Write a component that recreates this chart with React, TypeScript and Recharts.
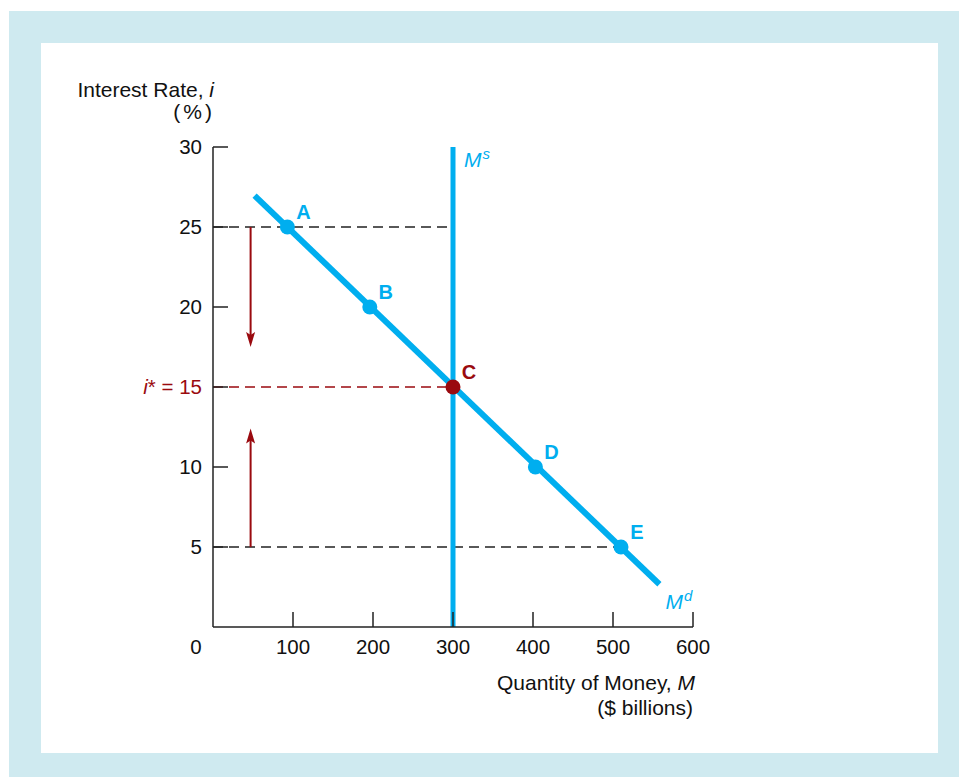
import React from 'react';
import {
  ComposedChart,
  Line,
  Scatter,
  XAxis,
  YAxis,
  ReferenceLine,
  ReferenceDot,
} from 'recharts';

// axis ticks
const xTicks = [0, 100, 200, 300, 400, 500, 600];
const yTicks = [5, 10, 15, 20, 25, 30];

// money demand curve (Md) end points
const demandM = [52, 558];
const demandI = [26.96, 2.67];

// labelled points on the demand curve
const pointLabels = ['A', 'B', 'C', 'D', 'E'];
const pointM = [93, 196, 300, 403, 510];
const pointI = [25, 20, 15, 10, 5];

// money supply (Ms) and equilibrium
const supplyM = 300;
const equilibriumI = 15;

// adjustment arrows: x position, start rate, tip rate
const arrowM = 47;
const arrowFrom = [25, 5];
const arrowTo = [17.5, 12.4];

const CYAN = '#00aeef';
const RED = '#9a0a0f';
const INK = '#222';
const FONT = "'Liberation Sans', Arial, Helvetica, sans-serif";

const demandData = demandM.map((m, k) => ({ m, i: demandI[k] }));
const pointData = pointLabels.map((label, k) => ({ label, m: pointM[k], i: pointI[k] }));

const XTick = (props: any) => {
  const { x, y, payload } = props;
  const v = payload.value;
  const axisY = y - 20;
  return (
    <g>
      {v !== 0 && <line x1={x} y1={axisY} x2={x} y2={axisY - 15} stroke={INK} strokeWidth={1.5} />}
      <text x={v === 0 ? x - 17 : x} y={y} dy="0.36em" textAnchor="middle" fontSize={20.5} fill="#111" fontFamily={FONT}>
        {v}
      </text>
    </g>
  );
};

const YTick = (props: any) => {
  const { x, y, payload } = props;
  const v = payload.value;
  const axisX = x + 11;
  return (
    <g>
      <line x1={axisX} y1={y} x2={axisX + 15} y2={y} stroke={INK} strokeWidth={1.5} />
      {v === equilibriumI ? (
        <text x={x} y={y} dy="0.36em" textAnchor="end" fontSize={20.5} fill={RED} fontFamily={FONT}>
          <tspan fontStyle="italic">i</tspan>* = {v}
        </text>
      ) : (
        <text x={x} y={y} dy="0.36em" textAnchor="end" fontSize={20.5} fill="#111" fontFamily={FONT}>
          {v}
        </text>
      )}
    </g>
  );
};

const renderPoint = (props: any) => {
  const { cx, cy, payload } = props;
  const color = payload.i === equilibriumI ? RED : CYAN;
  return (
    <g>
      <circle cx={cx} cy={cy} r={7.5} fill={color} />
      <text x={cx + 16} y={cy - 15} dy="0.36em" textAnchor="middle" fontSize={20} fontWeight="bold" fill={color} fontFamily={FONT}>
        {payload.label}
      </text>
    </g>
  );
};

const arrowShape = (props: any) => {
  const { x1, y1, x2, y2 } = props;
  const dir = y2 > y1 ? 1 : -1;
  return (
    <g>
      <line x1={x1} y1={y1} x2={x2} y2={y2 - dir * 10} stroke={RED} strokeWidth={2} />
      <path
        d={`M${x2},${y2} L${x2 - 4.5},${y2 - dir * 15} L${x2},${y2 - dir * 12} L${x2 + 4.5},${y2 - dir * 15} Z`}
        fill={RED}
      />
    </g>
  );
};

export default function App() {
  return (
    <div style={{ position: 'absolute', left: 0, top: 0, width: 959, height: 777, background: '#fff', fontFamily: FONT }}>
      <div style={{ position: 'absolute', left: 9, top: 11, width: 950, height: 766, background: '#cfeaf0' }} />
      <div style={{ position: 'absolute', left: 41, top: 43, width: 897, height: 710, background: '#fff' }} />
      <div style={{ position: 'absolute', left: 0, top: 0 }}>
        <ComposedChart width={959} height={777} margin={{ top: 147, right: 266, bottom: 110, left: 153 }}>
          <XAxis
            type="number"
            dataKey="m"
            domain={[0, 600]}
            ticks={xTicks}
            interval={0}
            height={40}
            tickSize={0}
            tickMargin={20}
            tickLine={false}
            axisLine={{ stroke: INK, strokeWidth: 1.5 }}
            tick={XTick}
            allowDataOverflow
            label={{
              content: (p: any) => {
                const vb = p.viewBox;
                const right = vb.x + vb.width;
                return (
                  <g fontFamily={FONT} fontSize={21} fill="#111">
                    <text x={right + 2} y={vb.y + 63} textAnchor="end">
                      Quantity of Money, <tspan fontStyle="italic">M</tspan>
                    </text>
                    <text x={right} y={vb.y + 88} textAnchor="end">($ billions)</text>
                  </g>
                );
              },
            }}
          />
          <YAxis
            type="number"
            dataKey="i"
            domain={[0, 30]}
            ticks={yTicks}
            interval={0}
            width={60}
            tickSize={0}
            tickMargin={11}
            tickLine={false}
            axisLine={{ stroke: INK, strokeWidth: 1.5 }}
            tick={YTick}
            allowDataOverflow
            label={{
              content: (p: any) => {
                const vb = p.viewBox;
                const right = vb.x + vb.width;
                return (
                  <g fontFamily={FONT} fontSize={21} fill="#111">
                    <text x={right + 1} y={vb.y - 50} textAnchor="end">
                      Interest Rate, <tspan fontStyle="italic">i</tspan>
                    </text>
                    <text x={right + 2} y={vb.y - 28} textAnchor="end" letterSpacing={3}>(%)</text>
                  </g>
                );
              },
            }}
          />

          <ReferenceLine
            segment={[{ x: 0, y: pointI[0] }, { x: supplyM, y: pointI[0] }]}
            stroke={INK}
            strokeWidth={1.5}
            strokeDasharray="10 6"
          />
          <ReferenceLine
            segment={[{ x: 0, y: pointI[4] }, { x: pointM[4], y: pointI[4] }]}
            stroke={INK}
            strokeWidth={1.5}
            strokeDasharray="10 6"
          />
          <ReferenceLine
            segment={[{ x: 0, y: equilibriumI }, { x: supplyM, y: equilibriumI }]}
            stroke={RED}
            strokeWidth={1.5}
            strokeDasharray="10 6"
          />
          {arrowFrom.map((from, k) => (
            <ReferenceLine
              key={k}
              segment={[{ x: arrowM, y: from }, { x: arrowM, y: arrowTo[k] }]}
              stroke={RED}
              shape={arrowShape}
            />
          ))}

          <ReferenceLine
            x={supplyM}
            stroke={CYAN}
            strokeWidth={5}
            label={{
              content: (p: any) => {
                const vb = p.viewBox;
                return (
                  <text x={vb.x + 11} y={vb.y + 20} fontSize={21} fill={CYAN} fontFamily={FONT} fontStyle="italic">
                    M<tspan fontSize={15} dx={1} dy={-8}>s</tspan>
                  </text>
                );
              },
            }}
          />

          <Line
            data={demandData}
            dataKey="i"
            type="linear"
            stroke={CYAN}
            strokeWidth={6}
            dot={false}
            activeDot={false}
            isAnimationActive={false}
          />
          <ReferenceDot
            x={demandM[1]}
            y={demandI[1]}
            r={0}
            fill="none"
            stroke="none"
            label={{
              content: (p: any) => {
                const vb = p.viewBox;
                return (
                  <text x={vb.x + 6} y={vb.y + 25} fontSize={21} fill={CYAN} fontFamily={FONT} fontStyle="italic">
                    M<tspan fontSize={15} dx={1} dy={-8}>d</tspan>
                  </text>
                );
              },
            }}
          />

          <Scatter data={pointData} dataKey="i" shape={renderPoint} isAnimationActive={false} />
        </ComposedChart>
      </div>
    </div>
  );
}
